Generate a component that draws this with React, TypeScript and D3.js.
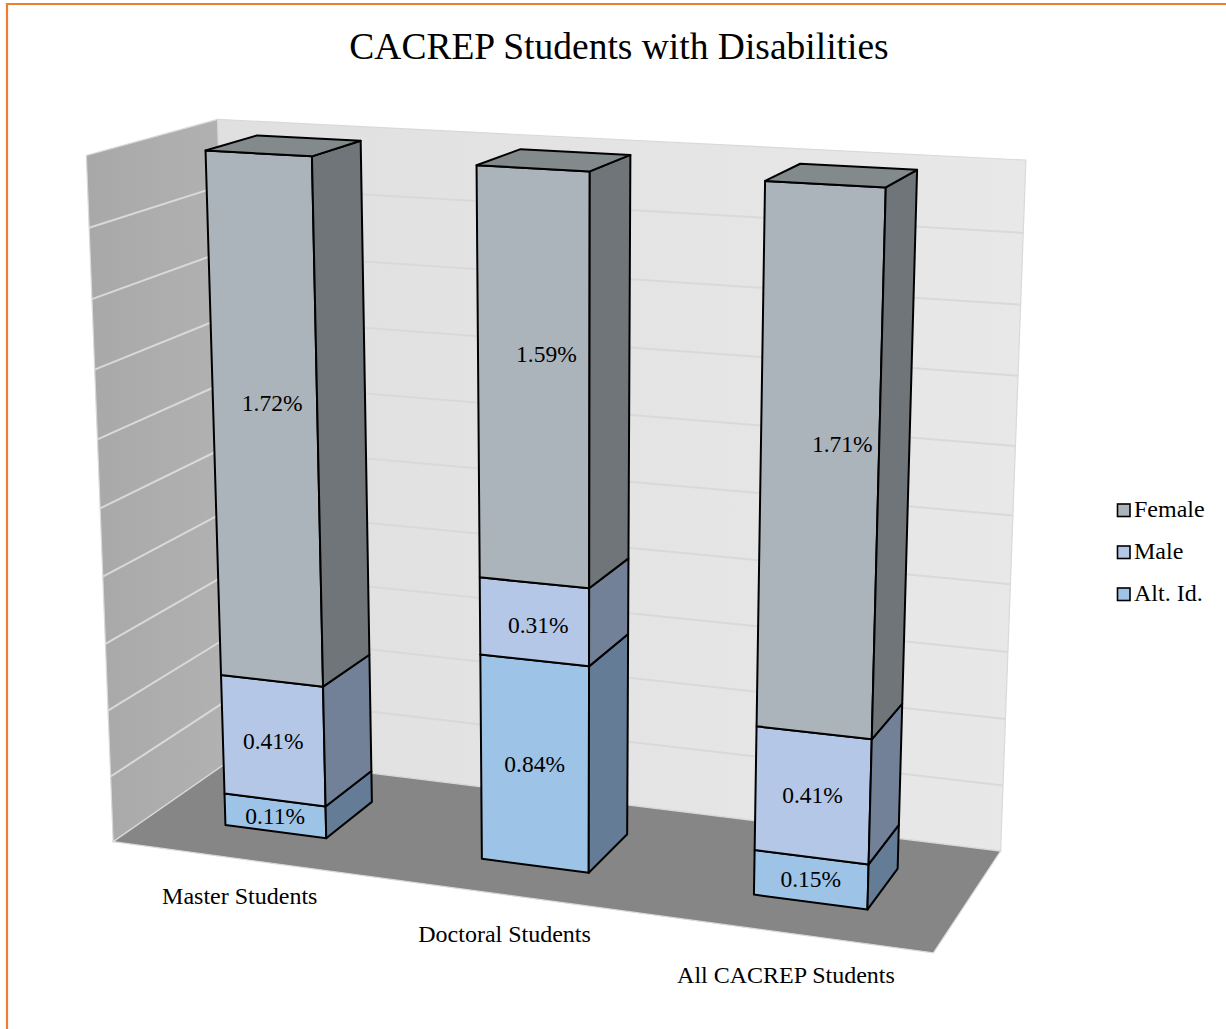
import React from "react";
import * as d3 from "d3";

const title = "CACREP Students with Disabilities";
const categories = ["Master Students", "Doctoral Students", "All CACREP Students"];
const seriesNames = ["Alt. Id.", "Male", "Female"];
const altId = [0.11, 0.84, 0.15];
const male = [0.41, 0.31, 0.41];
const female = [1.72, 1.59, 1.71];
const gridTicks = d3.range(0, 1.01, 0.1);

const colors: any = {
  "Alt. Id.": { front: "#9dc3e6", side: "#647c96", top: "#7a98b4" },
  Male: { front: "#b4c7e7", side: "#728197", top: "#8896ae" },
  Female: { front: "#acb4bb", side: "#6f7579", top: "#828a8c" },
};

// author moved some labels by hand in the original
const labelShift: any = {
  "Alt. Id.": [[0, 0], [0, 0], [0, -1]],
  Male: [[0, 0], [4, 3], [0, -1]],
  Female: [[7, -20], [13, -25], [23, -21]],
};

// where the corners of the plot box land on screen: [u, v, w, x, y]
// u = left to right, v = bottom to top, w = front to back
const calibration = [
  [0, 0, 0, 112, 842],
  [1, 0, 0, 934, 952],
  [0, 0, 1, 237, 756],
  [1, 0, 1, 1000, 852],
  [0, 1, 1, 217, 119],
  [1, 1, 1, 1026, 160],
  [0, 1, 0, 87, 156],
];

const solveCamera = () => {
  const rows: number[][] = [];
  const rhs: number[] = [];
  calibration.forEach(([u, v, w, x, y]) => {
    rows.push([u, v, w, 1, 0, 0, 0, 0, -x * u, -x * v, -x * w]);
    rhs.push(x);
    rows.push([0, 0, 0, 0, u, v, w, 1, -y * u, -y * v, -y * w]);
    rhs.push(y);
  });
  const n = 11;
  const m = d3.range(n).map((i) =>
    d3.range(n + 1).map((j) =>
      j < n ? d3.sum(rows, (r) => r[i] * r[j]) : d3.sum(rows, (r, k) => r[i] * rhs[k])
    )
  );
  for (let i = 0; i < n; i++) {
    let best = i;
    for (let k = i + 1; k < n; k++) if (Math.abs(m[k][i]) > Math.abs(m[best][i])) best = k;
    [m[i], m[best]] = [m[best], m[i]];
    for (let k = 0; k < n; k++) {
      if (k === i) continue;
      const f = m[k][i] / m[i][i];
      for (let j = i; j <= n; j++) m[k][j] -= f * m[i][j];
    }
  }
  return m.map((r, i) => r[n] / r[i]);
};

const p = solveCamera();
const project = (u: number, v: number, w: number): [number, number] => {
  const d = p[8] * u + p[9] * v + p[10] * w + 1;
  return [
    (p[0] * u + p[1] * v + p[2] * w + p[3]) / d,
    (p[4] * u + p[5] * v + p[6] * w + p[7]) / d,
  ];
};

const poly = d3.line().curve(d3.curveLinearClosed);
const face = (pts: number[][]) => poly(pts.map((q) => project(q[0], q[1], q[2]))) as string;

const xScale = d3.scaleBand().domain(categories).range([0, 1]).paddingInner(0.6).paddingOuter(0.3);
const yScale = d3.scaleLinear().domain([0, 1]).range([0, 1]);
// bars stop just under the top of the box
const barScale = d3.scaleLinear().domain([0, 1]).range([0, 0.997]);
const depth = { front: 0.295, back: 0.705 };

const rowsForStack = categories.map((c, i) => ({
  category: c,
  "Alt. Id.": altId[i],
  Male: male[i],
  Female: female[i],
}));
const stacked = d3.stack<any>().keys(seriesNames).offset(d3.stackOffsetExpand)(rowsForStack);

const App = () => {
  const serif = "'Liberation Serif', 'Times New Roman', serif";
  return (
    <svg
      width={1226}
      height={1029}
      style={{ position: "absolute", left: 0, top: 0, background: "#fff" }}
      fontFamily={serif}
    >
      <defs>
        <linearGradient id="backWall" x1="0" x2="1" y1="0" y2="0">
          <stop offset="0" stopColor="#e0e0e0" />
          <stop offset="1" stopColor="#e8e8e8" />
        </linearGradient>
        <linearGradient id="leftWall" x1="0" x2="1" y1="0" y2="0">
          <stop offset="0" stopColor="#a8a8a8" />
          <stop offset="1" stopColor="#b2b2b2" />
        </linearGradient>
      </defs>

      <path d="M7,1029V4H1226" fill="none" stroke="#ed7d31" strokeWidth={2.2} />

      <text x={619} y={59} textAnchor="middle" fontSize={37.5} fill="#000">
        {title}
      </text>

      {/* walls and floor */}
      <path
        d={face([[0, 0, 0], [0, 1, 0], [0, 1, 1], [0, 0, 1]])}
        fill="url(#leftWall)"
        stroke="#d9d9d9"
        strokeWidth={1.2}
      />
      <path
        d={face([[0, 0, 1], [0, 1, 1], [1, 1, 1], [1, 0, 1]])}
        fill="url(#backWall)"
        stroke="#d9d9d9"
        strokeWidth={1.2}
      />
      <path
        d={face([[0, 0, 0], [1, 0, 0], [1, 0, 1], [0, 0, 1]])}
        fill="#868686"
        stroke="#d9d9d9"
        strokeWidth={1.2}
      />
      {gridTicks.slice(1, -1).map((t) => (
        <g key={t} stroke="#d9d9d9" strokeWidth={2} fill="none">
          <path d={"M" + project(0, yScale(t), 0) + "L" + project(0, yScale(t), 1)} />
          <path d={"M" + project(0, yScale(t), 1) + "L" + project(1, yScale(t), 1)} />
        </g>
      ))}

      {/* bars */}
      {categories.map((c, i) => {
        const u0 = xScale(c) as number;
        const u1 = u0 + xScale.bandwidth();
        const { front: w0, back: w1 } = depth;
        return (
          <g key={c} stroke="#000" strokeWidth={2} strokeLinejoin="round">
            {stacked.map((s) => {
              const v0 = barScale(s[i][0]);
              const v1 = barScale(s[i][1]);
              const col = colors[s.key];
              return (
                <g key={s.key}>
                  <path d={face([[u0, v0, w0], [u1, v0, w0], [u1, v1, w0], [u0, v1, w0]])} fill={col.front} />
                  <path d={face([[u1, v0, w0], [u1, v0, w1], [u1, v1, w1], [u1, v1, w0]])} fill={col.side} />
                  {s.key === "Female" && (
                    <path d={face([[u0, v1, w0], [u1, v1, w0], [u1, v1, w1], [u0, v1, w1]])} fill={col.top} />
                  )}
                </g>
              );
            })}
          </g>
        );
      })}

      {/* data labels */}
      {categories.map((c, i) =>
        stacked.map((s) => {
          const u = (xScale(c) as number) + xScale.bandwidth() / 2;
          const [x, y] = project(u, barScale((s[i][0] + s[i][1]) / 2), depth.front);
          const shift = labelShift[s.key][i];
          return (
            <text
              key={c + s.key}
              x={x + shift[0]}
              y={y + shift[1]}
              dy="0.35em"
              textAnchor="middle"
              fontSize={23.5}
              fill="#000"
            >
              {d3.format(".2f")((s[i] as any).data[s.key]) + "%"}
            </text>
          );
        })
      )}

      {/* category labels */}
      {categories.map((c) => {
        const u = (xScale(c) as number) + xScale.bandwidth() / 2;
        const [x, y] = project(u, 0, 0);
        return (
          <text key={c} x={x} y={y + 44 + 7 * u} textAnchor="middle" fontSize={24} fill="#000">
            {c}
          </text>
        );
      })}

      {/* legend */}
      {[...seriesNames].reverse().map((name, i) => {
        const y = 510 + i * 42;
        return (
          <g key={name}>
            <rect x={1117.5} y={y - 6} width={12.5} height={12.5} fill={colors[name].front} stroke="#000" strokeWidth={1.6} />
            <text x={1134} y={y + 7} fontSize={24} fill="#000">
              {name}
            </text>
          </g>
        );
      })}
    </svg>
  );
};

export default App;
